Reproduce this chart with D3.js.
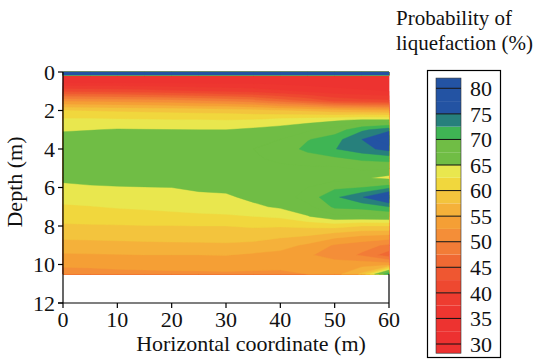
<!DOCTYPE html>
<html>
<head>
<meta charset="utf-8">
<script src="https://cdn.jsdelivr.net/npm/d3@7"></script>
<style>
  body { margin: 0; background: #fff; }
  svg text { font-family: 'Liberation Serif', 'Times New Roman', serif; fill: #111; }
</style>
</head>
<body>
<svg id="chart" width="552" height="363"></svg>
<script>
// horizontal positions of the sampled columns (m)
const xCoords = [0, 5, 10, 15, 20, 25, 30, 35, 40, 45, 50, 55, 60];
// depths of the sampled rows (m)
const depths = [0, 0.15, 0.2, 0.5, 1, 1.5, 2, 2.5, 3, 3.5, 4, 4.5, 5, 5.5, 6, 6.5, 7, 7.5, 8, 8.5, 9, 9.5, 10, 10.5];
// probability of liquefaction (%), one line per column, top to bottom
const probGrid = [
  [78, 78, 33, 34, 42, 52, 60, 63.0, 64.7, 66.2, 67, 67, 67, 65.8, 64.2, 63.3, 62.2, 61.2, 59.6, 58.1, 56.6, 54.7, 52.9, 51.5],
  [78, 78, 33, 34, 41.8, 51.8, 59.8, 63.0, 64.9, 66.5, 67, 67, 67, 66.2, 64.6, 63.6, 62.4, 61.4, 59.7, 58.2, 56.7, 54.8, 53.0, 51.6],
  [78, 78, 33, 34, 41.5, 51.5, 59.6, 62.9, 65.2, 66.8, 67.2, 67.2, 67, 66.3, 64.8, 63.8, 62.7, 61.5, 59.8, 58.3, 56.8, 54.9, 53.2, 51.8],
  [78, 78, 33, 34, 41.2, 51.2, 59.4, 62.8, 65.1, 66.8, 67.2, 67.2, 67, 66.5, 64.9, 64.2, 62.9, 61.6, 59.9, 58.4, 56.9, 55.0, 53.3, 51.9],
  [78, 78, 33, 34, 40.6, 50.8, 59.2, 62.6, 65.05, 66.8, 67.2, 67.2, 67, 66.6, 65.0, 64.4, 63.2, 61.8, 59.9, 58.5, 57.0, 55.0, 53.4, 52.0],
  [78, 78, 33, 34, 40.0, 50.2, 59.0, 62.6, 65.0, 66.8, 67.2, 67.2, 67, 66.8, 65.3, 64.6, 63.5, 62.0, 60.0, 58.6, 57.0, 55.0, 53.5, 52.0],
  [78, 78, 33, 34, 39.5, 49.5, 58.8, 62.5, 65.0, 66.8, 67.2, 67.2, 67, 66.8, 65.6, 64.6, 63.6, 62.2, 60.0, 58.7, 57.1, 55.1, 53.6, 52.1],
  [78, 78, 33, 34, 39.0, 48.5, 58.3, 62.7, 65.5, 67, 67.5, 67.3, 67, 66.9, 66.4, 65.6, 64.5, 62.5, 60.3, 58.6, 56.8, 54.6, 53.4, 52.0],
  [78, 78, 33, 33.8, 38, 46.5, 57.5, 63.5, 66, 67.5, 68.2, 67.8, 67.2, 67, 66.8, 66.3, 65.4, 63.0, 60.2, 58, 56, 54.2, 53.2, 52.0],
  [78, 78, 33, 33.5, 37, 44.5, 57, 64, 67, 69.8, 70.8, 68.5, 67.2, 66.8, 67.5, 68.5, 66.8, 64.8, 60.6, 57.5, 54.5, 52.8, 53, 52.5],
  [78, 78, 33, 33.5, 36, 42, 56, 64.6, 68.5, 71.5, 72.4, 69.5, 67, 66.5, 69.5, 72.0, 70.5, 67, 61, 56, 52.2, 51.5, 53.5, 54],
  [78, 78, 33, 33, 35.5, 41, 55.5, 65.5, 72, 75.0, 74, 70.5, 68, 65.5, 70, 74.8, 71, 67, 60, 55, 51, 49.6, 54, 58],
  [78, 78, 33, 33, 35, 40.5, 55, 65.5, 74, 80, 76, 71, 68, 64, 72, 79, 72.5, 67.5, 60, 54.5, 49.5, 46, 54, 73]
];
// contour levels and the fill of each band [level, next level)
const levels = d3.range(30, 80.01, 2.5);
const bandColors = ['#ed3130', '#ed3330', '#ee3630', '#ee3c30', '#ee4830', '#ef5731', '#f06933', '#f27c37',
  '#f48e38', '#f59f35', '#f5b13a', '#f3c43d', '#f1d73d', '#e9e74e', '#70bd45', '#70bd45',
  '#3fb554', '#27807c', '#2353a3', '#2353a3', '#2353a3'];
const xTicks = [0, 10, 20, 30, 40, 50, 60];
const yTicks = [0, 2, 4, 6, 8, 10, 12];
const legendTicks = [30, 35, 40, 45, 50, 55, 60, 65, 70, 75, 80];

const svg = d3.select('#chart');
const margin = { top: 72, left: 63 };
const plotW = 326;
const plotH = 231;
const fontSize = 22;

const x = d3.scaleLinear().domain([0, 60]).range([margin.left, margin.left + plotW]);
const y = d3.scaleLinear().domain([0, 12]).range([margin.top, margin.top + plotH]);

// grid in row-major order for d3.contours
const nx = xCoords.length;
const ny = depths.length;
const values = new Array(nx * ny);
for (let j = 0; j < ny; j += 1) {
  for (let i = 0; i < nx; i += 1) values[j * nx + i] = probGrid[i][j];
}

// grid index -> metres (samples sit at cell centres)
const gx = d3.scaleLinear().domain(d3.range(nx)).range(xCoords).clamp(true);
const gy = d3.scaleLinear().domain(d3.range(ny)).range(depths).clamp(true);
const proj = d3.geoTransform({
  point(px, py) { this.stream.point(x(gx(px - 0.5)), y(gy(py - 0.5))); },
});
const path = d3.geoPath(proj);

const contours = d3.contours().size([nx, ny]).thresholds(levels)(values);

svg.append('g')
  .selectAll('path')
  .data(contours)
  .join('path')
  .attr('d', path)
  .attr('fill', (d, i) => bandColors[i])
  .attr('stroke', (d, i) => bandColors[i])
  .attr('stroke-width', 0.4);

// frame / axes
const axisG = svg.append('g').attr('stroke', '#000').attr('stroke-width', 1.2);
axisG.append('line').attr('x1', x(0)).attr('x2', x(0)).attr('y1', y(0)).attr('y2', y(12));
axisG.append('line').attr('x1', x(0) - 5).attr('x2', x(60)).attr('y1', y(12)).attr('y2', y(12));
axisG.append('line').attr('x1', x(60)).attr('x2', x(60)).attr('y1', y(10.5)).attr('y2', y(12));

axisG.selectAll('.yt').data(yTicks).join('line')
  .attr('x1', x(0) - 5).attr('x2', x(0))
  .attr('y1', (d) => y(d)).attr('y2', (d) => y(d));
axisG.selectAll('.xt').data(xTicks).join('line')
  .attr('x1', (d) => x(d)).attr('x2', (d) => x(d))
  .attr('y1', y(12)).attr('y2', y(12) + 5);

svg.append('g').selectAll('text').data(yTicks).join('text')
  .attr('x', x(0) - 8)
  .attr('y', (d) => y(d))
  .attr('dy', '0.35em')
  .attr('text-anchor', 'end')
  .attr('font-size', fontSize)
  .text((d) => d);

svg.append('g').selectAll('text').data(xTicks).join('text')
  .attr('x', (d) => x(d))
  .attr('y', 327)
  .attr('text-anchor', 'middle')
  .attr('font-size', fontSize)
  .text((d) => d);

svg.append('text')
  .attr('x', 251).attr('y', 351)
  .attr('text-anchor', 'middle')
  .attr('font-size', fontSize)
  .text('Horizontal coordinate (m)');

svg.append('text')
  .attr('transform', 'translate(22,182) rotate(-90)')
  .attr('text-anchor', 'middle')
  .attr('font-size', fontSize)
  .text('Depth (m)');

// legend
const lg = svg.append('g');
lg.append('text').attr('x', 396).attr('y', 25).attr('font-size', 21).text('Probability of');
lg.append('text').attr('x', 396).attr('y', 50).attr('font-size', 21).text('liquefaction (%)');

lg.append('rect')
  .attr('x', 427.5).attr('y', 70.5).attr('width', 73).attr('height', 287)
  .attr('fill', 'none').attr('stroke', '#000').attr('stroke-width', 1.2);

const ly = d3.scaleLinear().domain([30, 80]).range([344, 88.3]);
const barX = 436;
const barW = 25;
const barMin = 28.2;
const barMax = 82;

lg.append('rect')
  .attr('x', barX).attr('width', barW)
  .attr('y', ly(30)).attr('height', ly(barMin) - ly(30))
  .attr('fill', bandColors[0]);
lg.selectAll('.band').data(levels).join('rect')
  .attr('x', barX).attr('width', barW)
  .attr('y', (d) => ly(Math.min(d + 2.5, barMax)))
  .attr('height', (d) => ly(d) - ly(Math.min(d + 2.5, barMax)))
  .attr('fill', (d, i) => bandColors[i]);

lg.append('rect')
  .attr('x', barX).attr('width', barW)
  .attr('y', ly(barMax)).attr('height', ly(barMin) - ly(barMax))
  .attr('fill', 'none').attr('stroke', '#333').attr('stroke-width', 0.6);

lg.selectAll('.tick').data(legendTicks).join('line')
  .attr('x1', barX).attr('x2', barX + barW)
  .attr('y1', (d) => ly(d)).attr('y2', (d) => ly(d))
  .attr('stroke', '#111').attr('stroke-width', 1);

lg.selectAll('.lab').data(legendTicks).join('text')
  .attr('x', 470)
  .attr('y', (d) => ly(d))
  .attr('dy', '0.35em')
  .attr('font-size', fontSize)
  .text((d) => d);
</script>
</body>
</html>
